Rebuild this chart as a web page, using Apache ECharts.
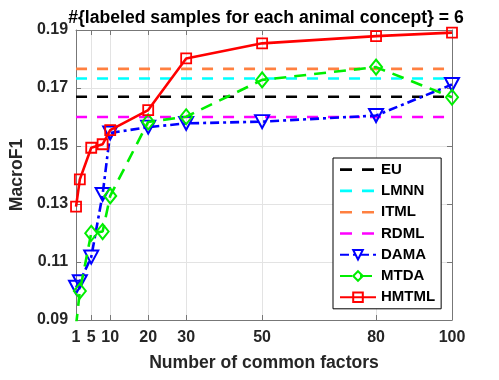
<!DOCTYPE html>
<html>
<head>
<meta charset="utf-8">
<title>MacroF1 vs common factors</title>
<script src="https://cdn.jsdelivr.net/npm/echarts@6/dist/echarts.min.js"></script>
<style>
  html, body { margin: 0; padding: 0; background: #fff; }
  #chart { width: 499px; height: 380px; }
</style>
</head>
<body>
<div id="chart"></div>
<script>
// number of common factors
var factors = [1, 2, 5, 8, 10, 20, 30, 50, 80, 100];
var xTicks = [1, 5, 10, 20, 30, 50, 80, 100];

// baselines (do not depend on the number of factors)
var baseX = [1, 100];
var euValue = 0.167;
var lmnnValue = 0.1733;
var itmlValue = 0.1766;
var rdmlValue = 0.160;

// methods with common factors
var damaValues = [0.1013, 0.1032, 0.1117, 0.1333, 0.1545, 0.1565, 0.1578, 0.1584, 0.1605, 0.1712];
var mtdaValues = [0.088, 0.1000, 0.1199, 0.1205, 0.1328, 0.1583, 0.1601, 0.1728, 0.1772, 0.1668];
var hmtmlValues = [0.1291, 0.1385, 0.1494, 0.1506, 0.1555, 0.1624, 0.1802, 0.1854, 0.1879, 0.1891];

var fontFamily = "'Liberation Sans', Arial, sans-serif";
var textColor = "#262626";

// two short dashes, kept in a 36x12 box so the legend does not stretch them
var dashIcon = "path://M0,0M36,12M0,4.8h12v2.6h-12zM22,4.8h12v2.6h-12z";

function pairs(xs, ys) {
  return xs.map(function (x, i) { return [x, ys[i]]; });
}
function flat(value) {
  return baseX.map(function (x) { return [x, value]; });
}

function baseline(name, value, color) {
  return {
    name: name,
    type: "line",
    data: flat(value),
    symbol: "none",
    color: color,
    lineStyle: { color: color, width: 2.6, type: [11, 10] },
    z: 2
  };
}

var chart = echarts.init(document.getElementById("chart"), null, { renderer: "canvas" });

chart.setOption({
  animation: false,
  backgroundColor: "#fff",
  textStyle: { fontFamily: fontFamily },
  title: {
    text: "#{labeled samples for each animal concept} = 6",
    left: 261,
    top: 4,
    textAlign: "center",
    textStyle: { fontFamily: fontFamily, fontSize: 17.6, fontWeight: "bold", color: "#000" }
  },
  grid: { left: 70, right: 47, top: 30, bottom: 60 },
  legend: {
    orient: "vertical",
    left: 333,
    top: 158,
    backgroundColor: "#fff",
    borderColor: "#000",
    borderWidth: 1,
    borderRadius: 0,
    padding: [4, 6, 4, 6],
    itemWidth: 36,
    itemHeight: 12,
    itemGap: 6.3,
    textStyle: { fontFamily: fontFamily, fontSize: 15, fontWeight: "bold", color: "#000", lineHeight: 15 },
    data: [
      { name: "EU", icon: dashIcon },
      { name: "LMNN", icon: dashIcon },
      { name: "ITML", icon: dashIcon },
      { name: "RDML", icon: dashIcon },
      "DAMA", "MTDA", "HMTML"
    ]
  },
  xAxis: [{
    type: "value",
    min: 1,
    max: 100,
    name: "Number of common factors",
    nameLocation: "middle",
    nameGap: 34,
    nameTextStyle: { fontFamily: fontFamily, fontSize: 17.6, fontWeight: "bold", color: textColor },
    axisLine: { lineStyle: { color: "#777", width: 1 } },
    axisTick: { inside: true, length: 5, customValues: xTicks, lineStyle: { color: "#777" } },
    axisLabel: {
      customValues: xTicks,
      margin: 10,
      fontFamily: fontFamily, fontSize: 16, fontWeight: "bold", color: textColor
    },
    splitLine: { show: true, lineStyle: { color: "#e3e3e3", width: 1 } }
  }, {
    type: "value",
    position: "top",
    min: 1,
    max: 100,
    axisLine: { show: true, lineStyle: { color: "#777", width: 1 } },
    axisTick: { show: true, inside: true, length: 5, customValues: xTicks, lineStyle: { color: "#777" } },
    axisLabel: { show: false, customValues: xTicks },
    splitLine: { show: false }
  }],
  yAxis: [{
    type: "value",
    min: 0.09,
    max: 0.19,
    interval: 0.02,
    name: "MacroF1",
    nameLocation: "middle",
    nameGap: 43,
    nameTextStyle: { fontFamily: fontFamily, fontSize: 17.6, fontWeight: "bold", color: textColor },
    axisLine: { show: true, lineStyle: { color: "#777", width: 1 } },
    axisTick: { show: true, inside: true, length: 5, lineStyle: { color: "#777" } },
    axisLabel: {
      margin: 8,
      fontFamily: fontFamily, fontSize: 16, fontWeight: "bold", color: textColor,
      formatter: function (v) { return v.toFixed(2); }
    },
    splitLine: { show: true, lineStyle: { color: "#e3e3e3", width: 1 } }
  }, {
    type: "value",
    position: "right",
    min: 0.09,
    max: 0.19,
    interval: 0.02,
    axisLine: { show: true, lineStyle: { color: "#777", width: 1 } },
    axisTick: { show: true, inside: true, length: 5, lineStyle: { color: "#777" } },
    axisLabel: { show: false },
    splitLine: { show: false }
  }],
  series: [
    baseline("EU", euValue, "#000000"),
    baseline("LMNN", lmnnValue, "#00ffff"),
    baseline("ITML", itmlValue, "#ff8040"),
    baseline("RDML", rdmlValue, "#ff00ff"),
    {
      name: "DAMA",
      type: "line",
      data: pairs(factors, damaValues),
      color: "#0000ff",
      symbol: "triangle",
      symbolRotate: 180,
      symbolSize: [14, 13],
      showAllSymbol: true,
      clip: true,
      lineStyle: { color: "#0000ff", width: 2.6, type: [9, 4, 3, 4] },
      itemStyle: { color: "rgba(0,0,0,0)", borderColor: "#0000ff", borderWidth: 2 },
      z: 3
    },
    {
      name: "MTDA",
      type: "line",
      data: pairs(factors, mtdaValues),
      color: "#00ee00",
      symbol: "diamond",
      symbolSize: [12, 15],
      showAllSymbol: true,
      clip: true,
      lineStyle: { color: "#00ee00", width: 2.6, type: [12, 8] },
      itemStyle: { color: "rgba(0,0,0,0)", borderColor: "#00ee00", borderWidth: 2 },
      z: 4
    },
    {
      name: "HMTML",
      type: "line",
      data: pairs(factors, hmtmlValues),
      color: "#ff0000",
      symbol: "rect",
      symbolSize: 10,
      showAllSymbol: true,
      clip: true,
      lineStyle: { color: "#ff0000", width: 2.6 },
      itemStyle: { color: "rgba(0,0,0,0)", borderColor: "#ff0000", borderWidth: 1.8 },
      z: 5
    }
  ]
});
</script>
</body>
</html>
